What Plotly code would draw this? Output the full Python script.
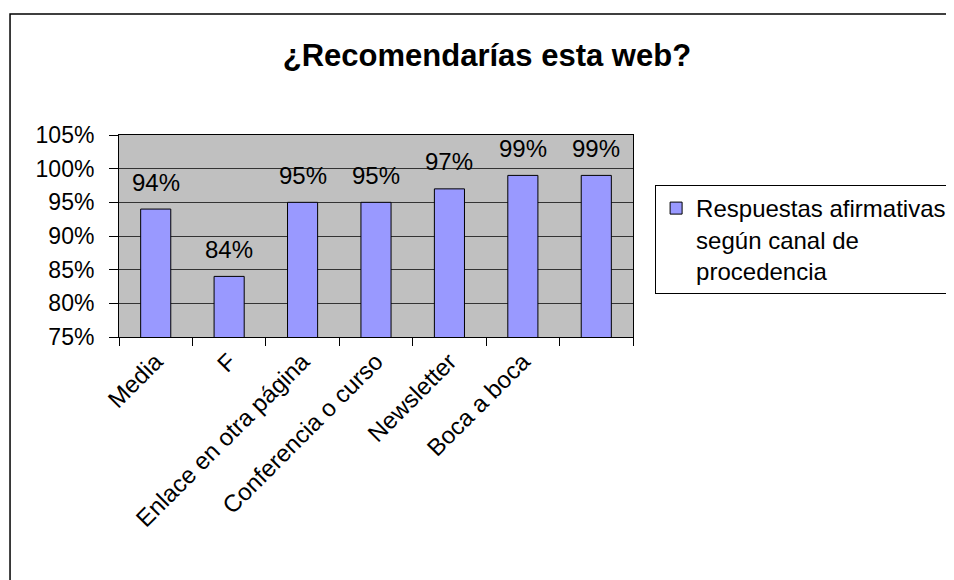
import plotly.graph_objects as go

# Chart data
categorias = ["Media", "F", "Enlace en otra página", "Conferencia o curso",
              "Newsletter", "Boca a boca", "Otros"]
afirmativas = [0.94, 0.84, 0.95, 0.95, 0.97, 0.99, 0.99]
etiquetas = ["94%", "84%", "95%", "95%", "97%", "99%", "99%"]
tick_vals = [0.75, 0.80, 0.85, 0.90, 0.95, 1.00, 1.05]
tick_text = ["75%", "80%", "85%", "90%", "95%", "100%", "105%"]
x_labels = ["Media", "F", "Enlace en otra página", "Conferencia o curso",
            "Newsletter", "Boca a boca", ""]
serie = "Respuestas afirmativas<br>según canal de<br>procedencia"

FONT = "Liberation Sans, Arial, sans-serif"

fig = go.Figure()
fig.add_trace(go.Bar(
    x=categorias, y=afirmativas, name=serie, showlegend=True,
    marker=dict(color="#9999FF", line=dict(color="black", width=1)),
))

# value labels above bars
for c, v, t in zip(categorias, afirmativas, etiquetas):
    fig.add_annotation(x=c, y=v, text=t, showarrow=False, yshift=27,
                       font=dict(size=24, color="black", family=FONT))

# outer chart frame (clipped at right and bottom)
fig.add_shape(type="rect", xref="paper", yref="paper",
              x0=-0.212, x1=1.8, y0=-1.4, y1=1.599,
              line=dict(color="black", width=1.5), layer="below")

# page body has an 8px margin, so the figure is sized to fit the window
fig.update_layout(
    width=946, height=572,
    margin=dict(l=111, r=321, t=127, b=243, autoexpand=False),
    paper_bgcolor="white", plot_bgcolor="#C0C0C0",
    font=dict(family=FONT, color="black"),
    title=dict(text="<b>¿Recomendarías esta web?</b>", x=0.5063, y=0.918,
               xanchor="center", yanchor="middle",
               font=dict(size=31, family=FONT, color="black")),
    bargap=0.59,
    legend=dict(x=1.043, y=0.7525, xanchor="left", yanchor="top",
                bordercolor="black", borderwidth=1, bgcolor="white",
                font=dict(size=24, family=FONT), valign="top"),
)

fig.update_xaxes(
    tickvals=categorias, ticktext=x_labels, tickangle=-45,
    tickfont=dict(size=24, family=FONT), tickson="boundaries",
    ticks="outside", ticklen=8, tickcolor="black",
    showline=True, linecolor="black", mirror=True, showgrid=False,
)
fig.update_yaxes(
    range=[0.75, 1.05], tickvals=tick_vals, ticktext=tick_text,
    tickfont=dict(size=23, family=FONT), ticklabelstandoff=10,
    ticks="outside", ticklen=9, tickcolor="black",
    showline=True, linecolor="black", mirror=True,
    showgrid=True, gridcolor="#333333", gridwidth=1, zeroline=False,
)

fig.write_html("out.html")
